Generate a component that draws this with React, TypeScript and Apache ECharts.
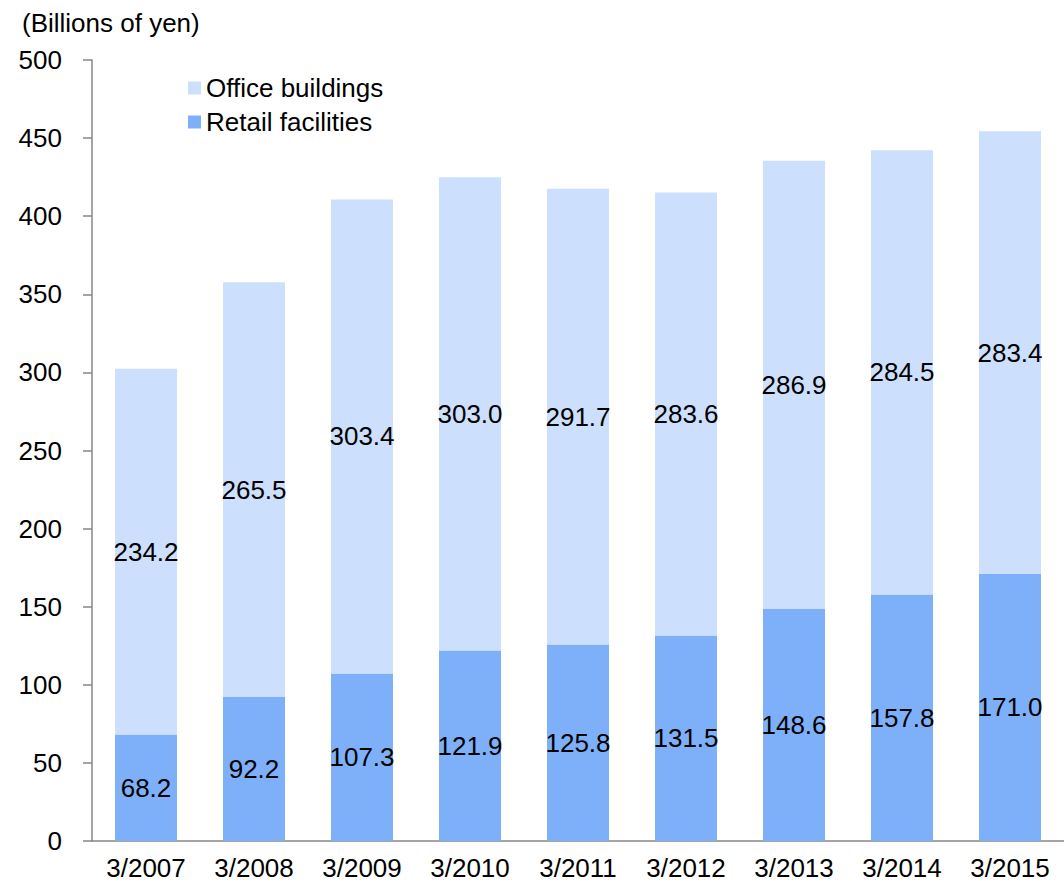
import React, { useEffect, useRef } from "react";
import * as echarts from "echarts";

const categories = ["3/2007", "3/2008", "3/2009", "3/2010", "3/2011", "3/2012", "3/2013", "3/2014", "3/2015"];
const retail = [68.2, 92.2, 107.3, 121.9, 125.8, 131.5, 148.6, 157.8, 171.0];
const office = [234.2, 265.5, 303.4, 303.0, 291.7, 283.6, 286.9, 284.5, 283.4];
const unitLabel = "(Billions of yen)";

const FONT = "Liberation Sans, Arial, sans-serif";

export default function App() {
  const ref = useRef<HTMLDivElement>(null);
  useEffect(() => {
    document.body.style.margin = "0";
    const chart = echarts.init(ref.current!, null, { renderer: "svg" });
    const axisColor = "#868686";
    chart.setOption({
      animation: false,
      textStyle: { fontFamily: FONT },
      grid: { left: 92, right: -4, top: 60, bottom: 43, containLabel: false },
      legend: {
        orient: "vertical",
        left: 183,
        top: 70,
        itemWidth: 13,
        itemHeight: 13,
        itemGap: 8,
        icon: "rect",
        data: ["Office buildings", "Retail facilities"],
        textStyle: { fontSize: 26, color: "#000", fontFamily: FONT },
      },
      graphic: [
        {
          type: "text",
          left: 22,
          top: 10,
          style: { text: unitLabel, fontSize: 26, fill: "#000", fontFamily: FONT },
        },
      ],
      xAxis: {
        type: "category",
        data: categories,
        axisLine: { lineStyle: { color: axisColor, width: 1.5 } },
        axisTick: { length: 8, lineStyle: { color: axisColor, width: 1.5 } },
        axisLabel: { fontSize: 26, color: "#000", margin: 14, fontFamily: FONT },
      },
      yAxis: {
        type: "value",
        min: 0,
        max: 500,
        interval: 50,
        splitLine: { show: false },
        axisLine: { show: true, lineStyle: { color: axisColor, width: 1.5 } },
        axisTick: { show: true, length: 9, lineStyle: { color: axisColor, width: 1.5 } },
        axisLabel: { fontSize: 26, color: "#000", margin: 30, fontFamily: FONT },
      },
      series: [
        {
          name: "Retail facilities",
          type: "bar",
          stack: "total",
          data: retail,
          barWidth: 62,
          itemStyle: { color: "#7EB0FA" },
          label: {
            show: true,
            position: "inside",
            fontSize: 26,
            color: "#000",
            fontFamily: FONT,
            formatter: (p: any) => p.value.toFixed(1),
          },
        },
        {
          name: "Office buildings",
          type: "bar",
          stack: "total",
          data: office,
          barWidth: 62,
          itemStyle: { color: "#CCDFFC" },
          label: {
            show: true,
            position: "inside",
            fontSize: 26,
            color: "#000",
            fontFamily: FONT,
            formatter: (p: any) => p.value.toFixed(1),
          },
        },
      ],
    });
    return () => chart.dispose();
  }, []);
  return <div ref={ref} style={{ width: 1064, height: 884 }} />;
}
